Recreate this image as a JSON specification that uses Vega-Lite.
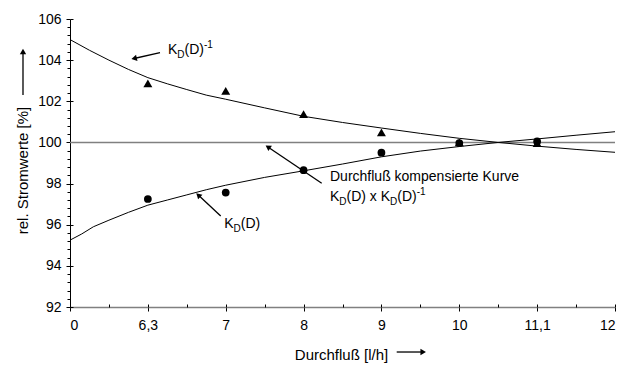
{
  "$schema": "https://vega.github.io/schema/vega-lite/v6.json",
  "width": 545,
  "height": 288,
  "autosize": {"type": "none"},
  "padding": {"left": 70, "top": 19, "right": 9, "bottom": 58},
  "background": "white",
  "config": {
    "view": {"stroke": null},
    "font": "Liberation Sans",
    "axis": {"grid": false, "tickColor": "black", "labelColor": "black", "titleColor": "black", "labelFont": "Liberation Sans", "titleFont": "Liberation Sans", "labelFontSize": 14, "titleFontSize": 15, "titleFontWeight": "normal"}
  },
  "datasets": {
    "baseline": [{"y": 100}],
    "curves": [
      {"series": "inv", "x": 0, "y": 105.0}, {"series": "inv", "x": 0.25, "y": 104.48}, {"series": "inv", "x": 0.5, "y": 104.0}, {"series": "inv", "x": 0.75, "y": 103.55}, {"series": "inv", "x": 1, "y": 103.15}, {"series": "inv", "x": 1.25, "y": 102.85}, {"series": "inv", "x": 1.5, "y": 102.57}, {"series": "inv", "x": 1.75, "y": 102.3}, {"series": "inv", "x": 2, "y": 102.1}, {"series": "inv", "x": 2.5, "y": 101.68}, {"series": "inv", "x": 3, "y": 101.27}, {"series": "inv", "x": 3.5, "y": 100.97}, {"series": "inv", "x": 4, "y": 100.7}, {"series": "inv", "x": 4.5, "y": 100.44}, {"series": "inv", "x": 5, "y": 100.2}, {"series": "inv", "x": 5.5, "y": 100.0}, {"series": "inv", "x": 6, "y": 99.82}, {"series": "inv", "x": 6.5, "y": 99.66}, {"series": "inv", "x": 7, "y": 99.52},
      {"series": "kd", "x": 0, "y": 95.25}, {"series": "kd", "x": 0.15, "y": 95.55}, {"series": "kd", "x": 0.3, "y": 95.9}, {"series": "kd", "x": 0.5, "y": 96.22}, {"series": "kd", "x": 0.75, "y": 96.6}, {"series": "kd", "x": 1, "y": 96.95}, {"series": "kd", "x": 1.25, "y": 97.2}, {"series": "kd", "x": 1.5, "y": 97.45}, {"series": "kd", "x": 1.75, "y": 97.7}, {"series": "kd", "x": 2, "y": 97.92}, {"series": "kd", "x": 2.5, "y": 98.3}, {"series": "kd", "x": 3, "y": 98.62}, {"series": "kd", "x": 3.5, "y": 98.95}, {"series": "kd", "x": 4, "y": 99.3}, {"series": "kd", "x": 4.5, "y": 99.58}, {"series": "kd", "x": 5, "y": 99.8}, {"series": "kd", "x": 5.5, "y": 100.0}, {"series": "kd", "x": 6, "y": 100.17}, {"series": "kd", "x": 6.5, "y": 100.35}, {"series": "kd", "x": 7, "y": 100.52}
    ],
    "markers": [
      {"series": "inv", "x": 1, "y": 102.87}, {"series": "inv", "x": 2, "y": 102.51}, {"series": "inv", "x": 3, "y": 101.37}, {"series": "inv", "x": 4, "y": 100.49}, {"series": "inv", "x": 5, "y": 100.0}, {"series": "inv", "x": 6, "y": 99.97},
      {"series": "kd", "x": 1, "y": 97.25}, {"series": "kd", "x": 2, "y": 97.56}, {"series": "kd", "x": 3, "y": 98.65}, {"series": "kd", "x": 4, "y": 99.5}, {"series": "kd", "x": 5, "y": 99.97}, {"series": "kd", "x": 6, "y": 100.05}
    ],
    "arrows": [
      {"x": 1.156, "y": 104.362, "x2": 0.8233, "y2": 104.08},
      {"x": 3.2329, "y": 98.013, "x2": 2.5419, "y2": 99.78},
      {"x": 1.9356, "y": 96.423, "x2": 1.6474, "y2": 97.44},
      {"x": -0.6037, "y": 102.306, "x2": -0.6037, "y2": 104.42},
      {"x": 4.1962, "y": 89.812, "x2": 4.5365, "y2": 89.812}
    ],
    "heads": [
      {"x": 0.8233, "y": 104.08, "angle": 257},
      {"x": 2.5419, "y": 99.78, "angle": 304},
      {"x": 1.6474, "y": 97.44, "angle": 313},
      {"x": -0.6037, "y": 104.42, "angle": 0},
      {"x": 4.5365, "y": 89.812, "angle": 90}
    ],
    "mainText": [
      {"x": 1.2587, "y": 104.299, "text": "K"},
      {"x": 1.4706, "y": 104.299, "text": "(D)"},
      {"x": 3.3395, "y": 98.139, "text": "Durchfluß kompensierte Kurve"},
      {"x": 3.3395, "y": 97.167, "text": "K"},
      {"x": 3.5514, "y": 97.167, "text": "(D) x K"},
      {"x": 4.2039, "y": 97.167, "text": "(D)"},
      {"x": 1.982, "y": 95.855, "text": "K"},
      {"x": 2.194, "y": 95.855, "text": "(D)"}
    ],
    "smallText": [
      {"x": 1.3782, "y": 104.08, "text": "D"},
      {"x": 1.7198, "y": 104.59, "text": "-1"},
      {"x": 3.459, "y": 96.948, "text": "D"},
      {"x": 4.1114, "y": 96.948, "text": "D"},
      {"x": 4.453, "y": 97.459, "text": "-1"},
      {"x": 2.101, "y": 95.636, "text": "D"}
    ]
  },
  "resolve": {"axis": {"x": "independent", "y": "independent"}},
  "layer": [
    {
      "data": {"name": "baseline"},
      "mark": {"type": "rule", "color": "#808080", "strokeWidth": 1.5},
      "encoding": {
        "y": {"field": "y", "type": "quantitative", "scale": {"domain": [92, 106], "nice": false, "zero": false}, "axis": null}
      }
    },
    {
      "data": {"name": "curves"},
      "mark": {"type": "line", "color": "black", "strokeWidth": 1},
      "encoding": {
        "x": {"field": "x", "type": "quantitative", "scale": {"domain": [0, 7], "nice": false, "zero": false},
          "axis": {"orient": "bottom", "values": [0, 1, 2, 3, 4, 5, 6, 7], "labelExpr": "['0','6,3','7','8','9','10','11,1','12'][datum.value]", "title": "Durchfluß [l/h]", "tickSize": 4, "labelPadding": 14, "labelBaseline": "middle", "domainColor": "#808080", "domainWidth": 1.5, "titleX": 271, "titleY": 47, "titleAlign": "center", "titleBaseline": "middle"}},
        "y": {"field": "y", "type": "quantitative", "scale": {"domain": [92, 106], "nice": false, "zero": false},
          "axis": {"orient": "left", "values": [92, 94, 96, 98, 100, 102, 104, 106], "title": "rel. Stromwerte [%]", "tickSize": 4, "labelPadding": 5, "domainColor": "black", "domainWidth": 1, "titleX": -48, "titleY": 151, "titleAngle": -90, "titleAlign": "center", "titleBaseline": "middle"}},
        "detail": {"field": "series"}
      }
    },
    {
      "data": {"name": "markers"},
      "mark": {"type": "point", "filled": true, "color": "black", "opacity": 1},
      "encoding": {
        "x": {"field": "x", "type": "quantitative", "axis": {"orient": "bottom", "values": [0, 1, 2, 3, 4, 5, 6, 7], "tickSize": -3, "labels": false, "domain": false, "title": null}},
        "y": {"field": "y", "type": "quantitative", "axis": {"orient": "left", "values": [92, 94, 96, 98, 100, 102, 104, 106], "tickSize": -3, "labels": false, "domain": false, "title": null}},
        "shape": {"field": "series", "type": "nominal", "scale": {"domain": ["inv", "kd"], "range": ["triangle-up", "circle"]}, "legend": null},
        "size": {"field": "series", "type": "nominal", "scale": {"domain": ["inv", "kd"], "range": [80, 60]}, "legend": null}
      }
    },
    {
      "data": {"name": "arrows"},
      "mark": {"type": "rule", "color": "black", "strokeWidth": 1.3, "clip": false},
      "encoding": {
        "x": {"field": "x", "type": "quantitative", "axis": {"orient": "bottom", "values": [0.5, 1.5, 2.5, 3.5, 4.5, 5.5, 6.5], "tickSize": -3, "labels": false, "domain": false, "title": null}},
        "y": {"field": "y", "type": "quantitative", "axis": {"orient": "left", "values": [92.4, 92.8, 93.2, 93.6, 94.4, 94.8, 95.2, 95.6, 96.4, 96.8, 97.2, 97.6, 98.4, 98.8, 99.2, 99.6, 100.4, 100.8, 101.2, 101.6, 102.4, 102.8, 103.2, 103.6, 104.4, 104.8, 105.2, 105.6], "tickSize": 3, "labels": false, "domain": false, "title": null}},
        "x2": {"field": "x2"},
        "y2": {"field": "y2"}
      }
    },
    {
      "data": {"name": "heads"},
      "mark": {"type": "point", "shape": "triangle-up", "filled": true, "color": "black", "opacity": 1, "size": 40, "clip": false},
      "encoding": {
        "x": {"field": "x", "type": "quantitative", "axis": null},
        "y": {"field": "y", "type": "quantitative", "axis": null},
        "angle": {"field": "angle", "type": "quantitative", "scale": null}
      }
    },
    {
      "data": {"name": "mainText"},
      "mark": {"type": "text", "align": "left", "baseline": "alphabetic", "fontSize": 14, "color": "black", "font": "Liberation Sans"},
      "encoding": {
        "x": {"field": "x", "type": "quantitative", "axis": null},
        "y": {"field": "y", "type": "quantitative", "axis": null},
        "text": {"field": "text"}
      }
    },
    {
      "data": {"name": "smallText"},
      "mark": {"type": "text", "align": "left", "baseline": "alphabetic", "fontSize": 10, "color": "black", "font": "Liberation Sans"},
      "encoding": {
        "x": {"field": "x", "type": "quantitative", "axis": null},
        "y": {"field": "y", "type": "quantitative", "axis": null},
        "text": {"field": "text"}
      }
    }
  ]
}
